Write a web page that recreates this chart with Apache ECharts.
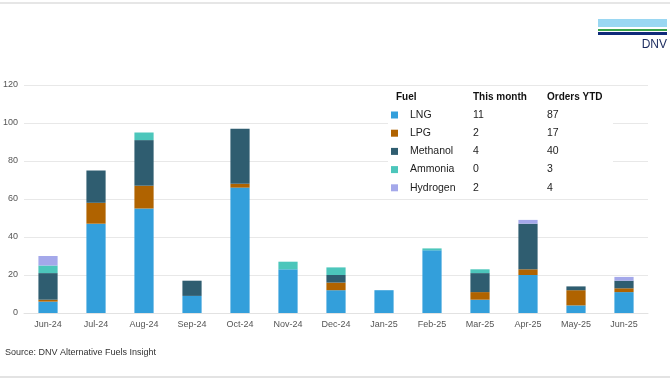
<!DOCTYPE html>
<html>
<head>
<meta charset="utf-8">
<script src="https://cdn.jsdelivr.net/npm/echarts@6/dist/echarts.min.js"></script>
<style>
html,body{margin:0;padding:0;background:#fff;}
#c{width:670px;height:380px;}
</style>
</head>
<body>
<div id="c"></div>
<script>
const categories = ['Jun-24','Jul-24','Aug-24','Sep-24','Oct-24','Nov-24','Dec-24','Jan-25','Feb-25','Mar-25','Apr-25','May-25','Jun-25'];
const lng      = [6, 47, 55, 9, 66, 23, 12, 12, 33, 7, 20, 4, 11];
const lpg      = [1, 11, 12, 0, 2, 0, 4, 0, 0, 4, 3, 8, 2];
const methanol = [14, 17, 24, 8, 29, 0, 4, 0, 0, 10, 24, 2, 4];
const ammonia  = [4, 0, 4, 0, 0, 4, 4, 0, 1, 2, 0, 0, 0];
const hydrogen = [5, 0, 0, 0, 0, 0, 0, 0, 0, 0, 2, 0, 2];
const fuels = ['LNG','LPG','Methanol','Ammonia','Hydrogen'];
const thisMonth = ['11','2','4','0','2'];
const ordersYTD = ['87','17','40','3','4'];
const yTicks = [0, 20, 40, 60, 80, 100, 120];
const colors = ['#339fdb', '#b06300', '#2f5d70', '#4cc6bb', '#a4a8ea'];
const seriesData = [lng, lpg, methanol, ammonia, hydrogen];

const chart = echarts.init(document.getElementById('c'));
const FONT = 'Liberation Sans, Arial, sans-serif';

const graphics = [
  {type:'rect', shape:{x:0,y:2,width:670,height:2}, style:{fill:'#e6e6e6'}, silent:true},
  {type:'rect', shape:{x:0,y:376,width:670,height:2}, style:{fill:'#e3e3e3'}, silent:true},
  // DNV logo
  {type:'rect', shape:{x:598,y:19,width:69,height:8}, style:{fill:'#9ad7f2'}},
  {type:'rect', shape:{x:598,y:29,width:69,height:2}, style:{fill:'#3aa54a'}},
  {type:'rect', shape:{x:598,y:32,width:69,height:3}, style:{fill:'#0f2a7a'}},
  {type:'text', x:667, y:39, style:{text:'DNV', fill:'#1a2a5e', font:'12px ' + FONT, align:'right', verticalAlign:'top'}},
  // source
  {type:'text', x:5, y:353, style:{text:'Source: DNV Alternative Fuels Insight', fill:'#333', font:'9px ' + FONT, verticalAlign:'middle'}},
  // legend table background
  {type:'rect', shape:{x:388,y:86,width:225,height:112}, style:{fill:'#fff'}, z:10},
  {type:'text', x:396, y:97, z:11, style:{text:'Fuel', fill:'#111', font:'bold 10px ' + FONT, verticalAlign:'middle'}},
  {type:'text', x:473, y:97, z:11, style:{text:'This month', fill:'#111', font:'bold 10px ' + FONT, verticalAlign:'middle'}},
  {type:'text', x:547, y:97, z:11, style:{text:'Orders YTD', fill:'#111', font:'bold 10px ' + FONT, verticalAlign:'middle'}},
];
fuels.forEach((f, i) => {
  const y = 115 + i * 18.2;
  graphics.push({type:'rect', z:11, shape:{x:391,y:y-3.5,width:7,height:7}, style:{fill:colors[i]}});
  graphics.push({type:'text', x:410, y:y, z:11, style:{text:f, fill:'#222', font:'10.5px ' + FONT, verticalAlign:'middle'}});
  graphics.push({type:'text', x:473, y:y, z:11, style:{text:thisMonth[i], fill:'#222', font:'10.5px ' + FONT, verticalAlign:'middle'}});
  graphics.push({type:'text', x:547, y:y, z:11, style:{text:ordersYTD[i], fill:'#222', font:'10.5px ' + FONT, verticalAlign:'middle'}});
});

chart.setOption({
  animation:false,
  backgroundColor:'#fff',
  grid:{left:24, right:22, top:85, bottom:67, containLabel:false},
  xAxis:{
    type:'category', data:categories,
    axisLine:{lineStyle:{color:'#e2e2e2'}},
    axisTick:{show:false},
    axisLabel:{color:'#555', fontSize:9, fontFamily:FONT, margin:7}
  },
  yAxis:{
    type:'value', min:yTicks[0], max:yTicks[yTicks.length-1], interval:20,
    axisLine:{show:false}, axisTick:{show:false},
    splitLine:{lineStyle:{color:'#e8e8e8'}},
    axisLabel:{color:'#555', fontSize:9, fontFamily:FONT, margin:6, align:'right'}
  },
  series: fuels.map((f, i) => ({
    name:f, type:'bar', stack:'total', data:seriesData[i],
    barWidth:'40%',
    itemStyle:{color:colors[i]}
  })),
  graphic:graphics
});
</script>
</body>
</html>
